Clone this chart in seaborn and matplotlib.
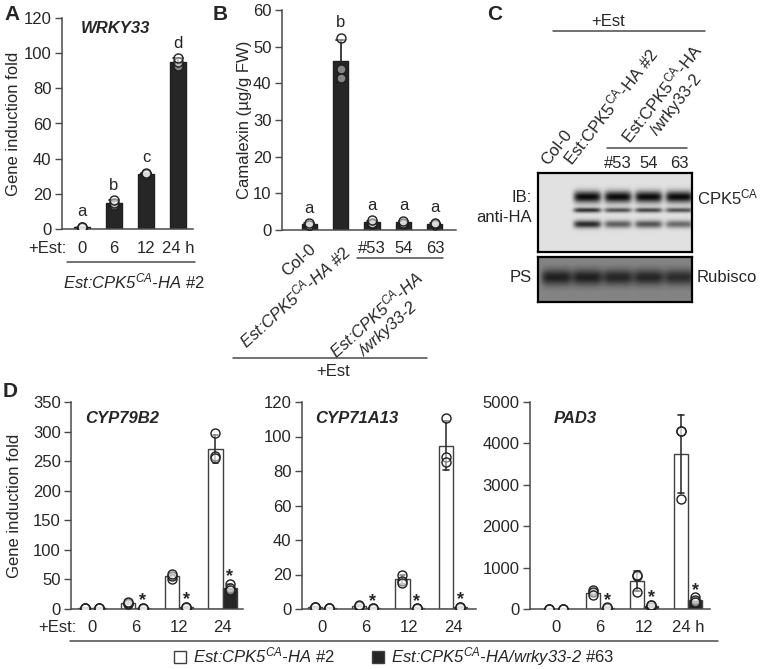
import matplotlib
matplotlib.use('Agg')
import matplotlib.pyplot as plt
import seaborn as sns
import numpy as np
import pandas as pd
from matplotlib.lines import Line2D
from matplotlib.transforms import blended_transform_factory

sns.set_theme(style='ticks')
plt.rcParams['font.family'] = ['Liberation Sans', 'DejaVu Sans']
plt.rcParams['font.size'] = 12
plt.rcParams['mathtext.fontset'] = 'custom'
plt.rcParams['mathtext.rm'] = 'Liberation Sans'
plt.rcParams['mathtext.it'] = 'Liberation Sans:italic'
plt.rcParams['mathtext.bf'] = 'Liberation Sans:bold'

# ---- data -------------------------------------------------------------
# A: WRKY33 induction in Est:CPK5CA-HA #2 (replicates)
a_times = ['0', '6', '12', '24 h']
a_reps = [[0.8, 1.0, 1.2], [13.5, 15.0, 16.5], [31.0, 31.5, 32.0], [92.5, 95.0, 97.0]]
a_letters = ['a', 'b', 'c', 'd']

# B: camalexin content (ug/g FW)
b_keys = ['Col-0', '#2', '#53', '54', '63']
b_ticklabels = ['Col-0', r'Est:CPK5$^{\mathit{CA}}$-HA$\mathrm{\ \#2}$', '#53', '54', '63']
b_reps = [[1.3, 1.5, 1.8], [52.5, 44.0, 41.5], [1.6, 2.0, 2.6], [1.7, 2.0, 2.5], [1.4, 1.7, 2.0]]
b_letters = ['a', 'b', 'a', 'a', 'a']

# C: immunoblot band intensities (lanes x bands)
c_lanes = ['Col-0', r'Est:CPK5$^{\mathrm{CA}}$-HA #2', '#53', '54', '63']
ib_rows = [0.30, 0.47, 0.65]
ib_widths = [0.075, 0.032, 0.05]
ib_signal = [[0.0, 0.0, 0.0],
             [1.0, 0.8, 0.85],
             [1.0, 0.65, 0.6],
             [1.0, 0.7, 0.65],
             [1.0, 0.65, 0.55]]
ps_rows = [0.45]
ps_widths = [0.18]
ps_signal = [[0.8], [0.8], [0.75], [0.75], [0.7]]

# D: camalexin biosynthesis genes
d_times = ['0', '6', '12', '24']
d_lines = ['#2', '#63']
d_genes = ['CYP79B2', 'CYP71A13', 'PAD3']
cyp79b2_wt = [[1, 1, 1], [8, 10, 12], [50, 55, 60], [298, 258, 255]]
cyp79b2_mut = [[1, 1, 1], [0.5, 1, 2], [2, 3, 4], [42, 35, 32]]
cyp71a13_wt = [[0.9, 1, 1.1], [1.5, 2, 2.5], [20, 16.5, 15], [111, 88, 85]]
cyp71a13_mut = [[0.4, 0.5, 0.6], [0.2, 0.3, 0.4], [0.2, 0.3, 0.4], [0.8, 1.0, 1.2]]
pad3_wt = [[1, 1, 1], [450, 400, 330], [800, 820, 400], [4300, 4290, 2650]]
pad3_mut = [[1, 1, 1], [20, 30, 40], [60, 100, 90], [280, 220, 180]]
d_wt = [cyp79b2_wt, cyp71a13_wt, pad3_wt]
d_mut = [cyp79b2_mut, cyp71a13_mut, pad3_mut]
d_star = [False, True, True, True]
legend_labels = [r'Est:CPK5$^{\mathit{CA}}$-HA$\mathrm{\ \#2}$',
                 r'Est:CPK5$^{\mathit{CA}}$-HA/wrky33-2$\mathrm{\ \#63}$']

# ---- helpers ----------------------------------------------------------
W, H = 762, 669
INK = '#1f1f1f'
SPINE = '#4a4a4a'
BAR_DARK = '#262626'
POINT_FACE = (1, 1, 1, 0.45)


def box(x0, y0, x1, y1):
    return [x0 / W, 1 - y1 / H, (x1 - x0) / W, (y1 - y0) / H]


def fpt(x, y):
    return x / W, 1 - y / H


def hline(x0, x1, y):
    fig.add_artist(Line2D([x0 / W, x1 / W], [1 - y / H] * 2, color=SPINE, lw=1.1))


def long_table(keys, reps_list, line=None):
    rows = []
    for k, reps in zip(keys, reps_list):
        for v in reps:
            rows.append({'x': k, 'value': v, 'line': line})
    return pd.DataFrame(rows)


def style_axis(ax, ymax, step, pad):
    sns.despine(ax=ax)
    ax.set_ylim(0, ymax)
    ax.set_yticks(np.arange(0, ymax + 1, step))
    ax.tick_params(axis='y', length=5, width=1, color=SPINE, labelsize=12, pad=2.5)
    ax.tick_params(axis='x', length=0, labelsize=12, pad=pad)
    for s in ('left', 'bottom'):
        ax.spines[s].set_color(SPINE)
        ax.spines[s].set_linewidth(1.1)
    ax.set_xlabel('')
    ax.set_ylabel('')


def letters(ax, reps_list, labels):
    for i, (reps, lab) in enumerate(zip(reps_list, labels)):
        top = max(np.mean(reps) + np.std(reps, ddof=1), max(reps))
        ax.annotate(lab, xy=(i, top), xytext=(0, 7.5), textcoords='offset points',
                    ha='center', va='baseline', fontsize=12)


def light_points(ax):
    for coll in ax.collections:
        coll.set_facecolor(POINT_FACE)


fig = plt.figure(figsize=(7.62, 6.69), dpi=100)

# ---- A ----------------------------------------------------------------
ax_a = fig.add_axes(box(62, 18, 193, 229))
df_a = long_table(a_times, a_reps)
sns.barplot(data=df_a, x='x', y='value', order=a_times, errorbar='sd', color=BAR_DARK,
            saturation=1, width=0.48, edgecolor=INK, linewidth=1, capsize=0.3,
            err_kws={'color': INK, 'linewidth': 1.2}, ax=ax_a)
sns.stripplot(data=df_a, x='x', y='value', order=a_times, jitter=False, size=6.5,
              color='white', edgecolor=INK, linewidth=1, ax=ax_a)
light_points(ax_a)
style_axis(ax_a, 120, 20, 9)
ax_a.set_xlim(-0.625, 3.47)
letters(ax_a, a_reps, a_letters)
ax_a.text(0.14, 0.95, 'WRKY33', transform=ax_a.transAxes, fontstyle='italic',
          fontweight='bold', va='center', fontsize=12)
ax_a.set_ylabel('Gene induction fold', fontsize=12)
ax_a.yaxis.set_label_coords(-0.31, 0.5)
ax_a.annotate('+Est:', xy=(-0.48, 0), xycoords=('data', 'axes fraction'),
              xytext=(0, -9), textcoords='offset points', ha='right', va='top', fontsize=12)
hline(67, 195, 262)
fig.text(*fpt(134, 281), r'Est:CPK5$^{\mathit{CA}}$-HA$\mathrm{\ \#2}$', fontstyle='italic',
         ha='center', va='center', fontsize=12)

# ---- B ----------------------------------------------------------------
ax_b = fig.add_axes(box(282, 10, 456, 230))
df_b = long_table(b_keys, b_reps)
sns.barplot(data=df_b, x='x', y='value', order=b_keys, errorbar='sd', color=BAR_DARK,
            saturation=1, width=0.48, edgecolor=INK, linewidth=1, capsize=0.3,
            err_kws={'color': INK, 'linewidth': 1.2}, ax=ax_b)
sns.stripplot(data=df_b, x='x', y='value', order=b_keys, jitter=False, size=6.5,
              color='white', edgecolor=INK, linewidth=1, ax=ax_b)
light_points(ax_b)
style_axis(ax_b, 60, 10, 8)
ax_b.set_xlim(-0.86, 4.67)
letters(ax_b, b_reps, b_letters)
ax_b.set_ylabel('Camalexin (µg/g FW)', fontsize=12)
ax_b.yaxis.set_label_coords(-0.175, 0.5)
ax_b.set_xticks(range(len(b_keys)))
ax_b.set_xticklabels(b_ticklabels)
for i, lab in enumerate(ax_b.get_xticklabels()[:2]):
    lab.set_rotation(42)
    lab.set_ha('right')
    lab.set_va('top')
    lab.set_rotation_mode('anchor')
    if i == 1:
        lab.set_fontstyle('italic')
trans_b = blended_transform_factory(ax_b.transData, ax_b.transAxes)
ax_b.plot([1.52, 4.25], [-0.127, -0.127], color=SPINE, lw=1.1, transform=trans_b, clip_on=False)
ax_b.text(3.3, -0.17, r'Est:CPK5$^{\mathit{CA}}$-HA' + '\n/wrky33-2', transform=trans_b,
          rotation=42, rotation_mode='anchor', ha='right', va='top', multialignment='center',
          fontstyle='italic', fontsize=12)
hline(233, 427, 358)
fig.text(*fpt(333, 371), '+Est', ha='center', va='center', fontsize=12)

# ---- C (immunoblot) ---------------------------------------------------
lane_x = [(i + 0.5) / len(c_lanes) + 0.02 for i in range(len(c_lanes))]


def blot_image(signal, rows, widths, background, nrow, ncol, lane_w):
    yy = np.linspace(0, 1, nrow)[:, None]
    xx = np.linspace(0, 1, ncol)[None, :]
    dens = np.zeros((nrow, ncol))
    for cx, lane in zip(lane_x, signal):
        prof = np.exp(-((xx - cx) / lane_w) ** 6)
        for r, w, s in zip(rows, widths, lane):
            dens += s * prof * np.exp(-((yy - r) / w) ** 2)
    return background * (1 - 0.95 * np.clip(dens, 0, 1))


ax_ib = fig.add_axes(box(538, 173, 692, 252))
ax_ib.imshow(blot_image(ib_signal, ib_rows, ib_widths, 0.88, 79, 154, 0.09),
             cmap='gray', vmin=0, vmax=1, aspect='auto', interpolation='bilinear')
ax_ps = fig.add_axes(box(538, 257, 692, 302))
ax_ps.imshow(blot_image(ps_signal, ps_rows, ps_widths, 0.52, 45, 154, 0.1),
             cmap='gray', vmin=0, vmax=1, aspect='auto', interpolation='bilinear')
for ax in (ax_ib, ax_ps):
    ax.set_xticks([])
    ax.set_yticks([])
    for s in ax.spines.values():
        s.set_visible(True)
        s.set_color('black')
        s.set_linewidth(1.6)

fig.text(*fpt(550, 168), c_lanes[0], rotation=52, rotation_mode='anchor', ha='left', va='bottom', fontsize=12)
fig.text(*fpt(574, 168), c_lanes[1], rotation=52, rotation_mode='anchor', ha='left', va='bottom', fontsize=12)
fig.text(*fpt(668, 98), r'Est:CPK5$^{\mathrm{CA}}$-HA' + '\n/wrky33-2', rotation=52,
         rotation_mode='anchor', ha='center', va='center', multialignment='center', fontsize=12)
for lab, x in zip(c_lanes[2:], [618, 649, 679]):
    fig.text(*fpt(x, 163), lab, ha='center', va='center', fontsize=12)
hline(607, 687, 148)
hline(553, 705, 31)
fig.text(*fpt(608, 21), '+Est', ha='center', va='center', fontsize=12)
fig.text(*fpt(532, 197), 'IB:', ha='right', va='center', fontsize=12)
fig.text(*fpt(532, 217), 'anti-HA', ha='right', va='center', fontsize=12)
fig.text(*fpt(532, 278), 'PS', ha='right', va='center', fontsize=12)
fig.text(*fpt(697, 197), r'CPK5$^{\mathrm{CA}}$', ha='left', va='center', fontsize=12)
fig.text(*fpt(697, 278), 'Rubisco', ha='left', va='center', fontsize=12)

# ---- D ----------------------------------------------------------------
d_boxes = [box(71, 402, 243, 609), box(302, 402, 476, 609), box(530, 402, 710, 609)]
d_xlims = [(-0.48, 3.47), (-0.46, 3.52), (-0.59, 3.5)]
d_ymax = [350, 120, 5000]
d_step = [50, 20, 1000]
d_title_x = [0.08, 0.075, 0.13]
legend_handles = None
for k in range(3):
    ax = fig.add_axes(d_boxes[k])
    df = pd.concat([long_table(d_times, d_wt[k], '#2'), long_table(d_times, d_mut[k], '#63')])
    sns.barplot(data=df, x='x', y='value', hue='line', order=d_times, hue_order=d_lines,
                palette={'#2': 'white', '#63': BAR_DARK}, saturation=1, width=0.65,
                errorbar='sd', capsize=0.25, edgecolor='#404040', linewidth=1,
                err_kws={'color': '#333333', 'linewidth': 1.2}, ax=ax)
    leg = ax.get_legend()
    if legend_handles is None:
        legend_handles = leg.legend_handles
    leg.remove()
    sns.stripplot(data=df, x='x', y='value', hue='line', order=d_times, hue_order=d_lines,
                  palette={'#2': 'white', '#63': 'white'}, dodge=True, jitter=False, size=6.5,
                  edgecolor=INK, linewidth=1, legend=False, ax=ax)
    for coll in ax.collections:
        off = coll.get_offsets()
        base = np.round(off[:, 0])
        off[:, 0] = base + (off[:, 0] - base) * 0.8125
        coll.set_offsets(off)
    light_points(ax)
    style_axis(ax, d_ymax[k], d_step[k], 8)
    ax.set_xlim(*d_xlims[k])
    ax.set_xticks(range(4))
    ax.set_xticklabels(d_times[:3] + ['24 h' if k == 2 else '24'])
    ax.text(d_title_x[k], 0.92, d_genes[k], transform=ax.transAxes, fontstyle='italic',
            fontweight='bold', va='center', fontsize=12)
    for i, (reps, star) in enumerate(zip(d_mut[k], d_star)):
        if star:
            ax.annotate('*', xy=(i + 0.1625, max(reps)), xytext=(0, -1),
                        textcoords='offset points', ha='center', va='bottom',
                        fontsize=13, fontweight='bold')
    if k == 0:
        ax.set_ylabel('Gene induction fold', fontsize=12)
        ax.yaxis.set_label_coords(-0.285, 0.5)
        ax.annotate('+Est:', xy=(-0.35, 0), xycoords=('data', 'axes fraction'),
                    xytext=(0, -8), textcoords='offset points', ha='right', va='top', fontsize=12)

hline(70, 718, 641)
fig.legend(legend_handles, legend_labels, loc='center', bbox_to_anchor=(0.517, 1 - 657 / H),
           ncol=2, frameon=False, handlelength=0.75, handleheight=0.75, handletextpad=0.4,
           columnspacing=2.2, prop={'style': 'italic', 'size': 12})

# panel letters
for lab, (x, y) in zip('ABCD', [(12, 15), (220, 15), (495, 15), (10, 392)]):
    fig.text(*fpt(x, y), lab, fontsize=15, fontweight='bold', ha='center', va='center')

fig.savefig('out.png', dpi=100)
